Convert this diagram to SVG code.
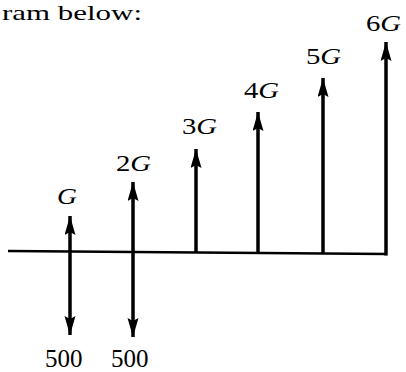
<svg xmlns="http://www.w3.org/2000/svg" width="406" height="372" viewBox="0 0 406 372">
<style>
  .lbl { font-family: "Liberation Serif", "Times New Roman", serif; font-size: 23px; fill: #000; }
  .it { font-style: italic; }
  .num { font-family: "Liberation Serif", "Times New Roman", serif; font-size: 25px; fill: #000; }
  .cap { font-family: "Liberation Serif", "Times New Roman", serif; font-size: 22px; fill: #000; }
  .axis { stroke: #000; stroke-width: 2.5; fill: none; }
  .flow { stroke: #000; stroke-width: 3.5; fill: none; }
</style>
<defs>
  <marker id="head" markerUnits="userSpaceOnUse" markerWidth="22" markerHeight="12" refX="19" refY="5.5" orient="auto-start-reverse">
    <path d="M0,0 L19,5.5 L0,11 L3,5.5 Z" fill="#000"/>
  </marker>
</defs>

<text class="cap" x="2" y="20" textLength="140" lengthAdjust="spacingAndGlyphs">ram below:</text>

<g id="connectors">
  <line class="axis" x1="8" y1="251" x2="387" y2="254"/>
  <line class="flow" x1="70" y1="335" x2="70" y2="216" marker-start="url(#head)" marker-end="url(#head)"/>
  <line class="flow" x1="133" y1="337" x2="133" y2="182" marker-start="url(#head)" marker-end="url(#head)"/>
  <line class="flow" x1="196" y1="253" x2="196" y2="149" marker-end="url(#head)"/>
  <line class="flow" x1="258" y1="253" x2="258" y2="112" marker-end="url(#head)"/>
  <line class="flow" x1="323" y1="254" x2="323" y2="78" marker-end="url(#head)"/>
  <line class="flow" x1="386" y1="255.5" x2="386" y2="42" marker-end="url(#head)"/>
</g>

<g id="node-G">
  <text class="lbl it" transform="translate(57,204) scale(1.2,1)">G</text>
  <text class="num" x="45" y="367">500</text>
</g>
<g id="node-2G">
  <text class="lbl" transform="translate(116,171) scale(1.25,1)">2<tspan class="it">G</tspan></text>
  <text class="num" x="111" y="367">500</text>
</g>
<g id="node-3G">
  <text class="lbl" transform="translate(182,134) scale(1.25,1)">3<tspan class="it">G</tspan></text>
</g>
<g id="node-4G">
  <text class="lbl" transform="translate(244,98) scale(1.25,1)">4<tspan class="it">G</tspan></text>
</g>
<g id="node-5G">
  <text class="lbl" transform="translate(306,64) scale(1.25,1)">5<tspan class="it">G</tspan></text>
</g>
<g id="node-6G">
  <text class="lbl" transform="translate(366,31) scale(1.25,1)">6<tspan class="it">G</tspan></text>
</g>
</svg>
